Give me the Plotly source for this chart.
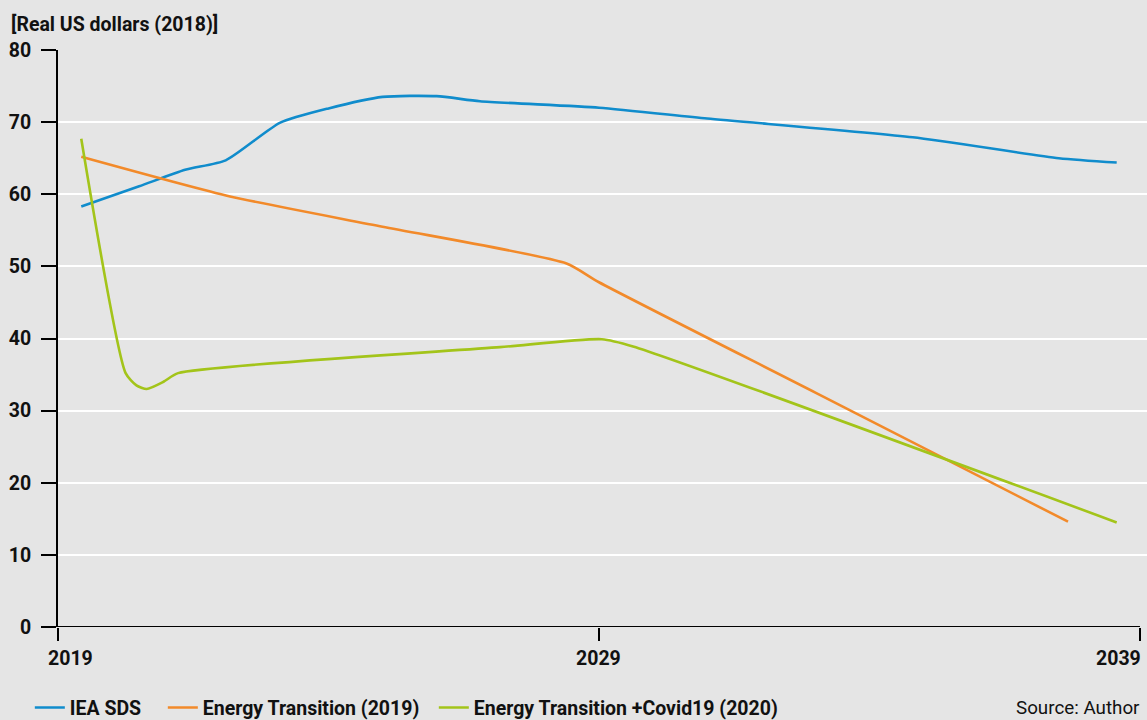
import plotly.graph_objects as go

# ---- data ----
sds_years = [2019.43, 2020.5, 2021.35, 2022.1, 2023.1, 2024.0, 2025.0, 2026.0, 2026.8, 2029.0, 2031.0, 2034.8, 2037.5, 2038.57]
sds_vals = [58.3, 61.1, 63.4, 64.7, 69.9, 71.9, 73.5, 73.6, 72.9, 72.0, 70.5, 67.9, 65.0, 64.4]

et_years = [2019.43, 2022.18, 2025.0, 2028.4, 2029.0, 2033.0, 2037.67]
et_vals = [65.2, 59.7, 55.5, 50.4, 47.8, 32.5, 14.6]

cov_years = [2019.43, 2020.25, 2020.45, 2020.64, 2020.95, 2021.22, 2027.17, 2029.05, 2029.63, 2038.57]
cov_vals = [67.7, 35.2, 33.5, 33.0, 34.0, 35.2, 38.8, 39.9, 38.9, 14.5]

series_names = ["IEA SDS", "Energy Transition (2019)", "Energy Transition +Covid19 (2020)"]
colors = ["#108ccc", "#f28a2a", "#a3c41a"]
legend_widths = [88, 226, None]

y_ticks = [0, 10, 20, 30, 40, 50, 60, 70, 80]
x_ticks = [2019, 2029, 2039]
x_labels = ["2019", "2029", "2039"]

FONT = "Roboto, sans-serif"
INK = "#111111"
BSIZE = 19.5

fig = go.Figure()
for xs, ys, name, c, lw in zip([sds_years, et_years, cov_years], [sds_vals, et_vals, cov_vals],
                               series_names, colors, legend_widths):
    tr = go.Scatter(x=xs, y=ys, name=name, mode="lines",
                    line=dict(color=c, width=2.6, shape="spline", smoothing=0.6))
    if lw:
        tr.legendwidth = lw
    fig.add_trace(tr)

fig.update_layout(
    width=1147, height=720,
    paper_bgcolor="#e5e5e5", plot_bgcolor="#e5e5e5",
    margin=dict(l=58, r=0, t=50, b=93, autoexpand=False),
    font=dict(family=FONT, size=18, color=INK),
    showlegend=True,
    legend=dict(orientation="h", xref="container", x=0.026, xanchor="left",
                yref="container", y=0.017, yanchor="middle",
                font=dict(family=FONT, size=BSIZE, color=INK, weight="bold"),
                itemwidth=30, tracegroupgap=0, bgcolor="rgba(0,0,0,0)"),
)
fig.update_xaxes(range=[2019, 2039.13], tickvals=x_ticks, showticklabels=False,
                 ticks="outside", ticklen=13, tickwidth=2, tickcolor="black",
                 showgrid=False, zeroline=False, showline=False)
fig.update_yaxes(range=[0, 80], tickvals=y_ticks, ticks="outside", ticklen=15, tickwidth=2,
                 tickcolor="black", showline=True, linecolor="black", linewidth=2,
                 gridcolor="white", gridwidth=2, zeroline=False, ticklabelstandoff=6,
                 tickfont=dict(family=FONT, size=BSIZE, color=INK, weight="bold"))

# x-axis baseline from first to last tick
fig.add_shape(type="line", xref="x", yref="y", x0=x_ticks[0], x1=x_ticks[-1], y0=0, y1=0,
              line=dict(color="black", width=2))

anchors = ["left", "center", "right"]
shifts = [-12, 0, 3]
for xv, lab, an, sh in zip(x_ticks, x_labels, anchors, shifts):
    fig.add_annotation(x=xv, y=0, xref="x", yref="y", text=lab, showarrow=False,
                       xanchor=an, yanchor="top", yshift=-18, xshift=sh,
                       font=dict(family=FONT, size=BSIZE, color=INK, weight="bold"))

fig.add_annotation(x=0, y=1, xref="paper", yref="paper", text="[Real US dollars (2018)]",
                   showarrow=False, xanchor="left", yanchor="bottom", xshift=-49, yshift=12,
                   font=dict(family=FONT, size=BSIZE, color=INK, weight="bold"))
fig.add_annotation(x=1, y=0, xref="paper", yref="paper", text="Source: Author",
                   showarrow=False, xanchor="right", yanchor="middle", xshift=-5, yshift=-81,
                   font=dict(family=FONT, size=18.8, color=INK))

fig.write_html("out.html")
